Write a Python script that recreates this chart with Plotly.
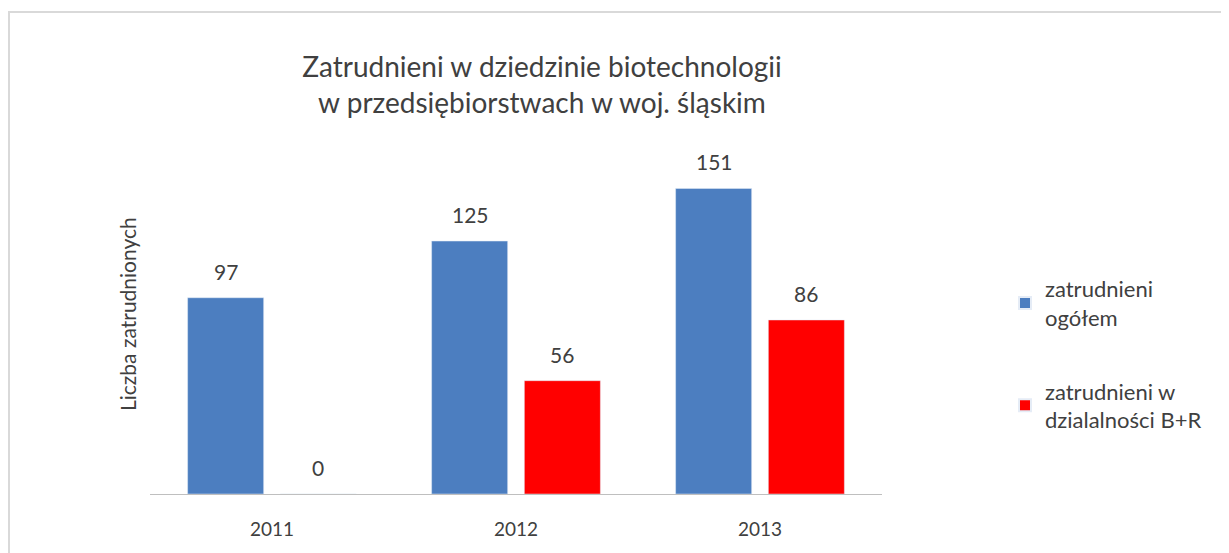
import plotly.graph_objects as go

years = ["2011", "2012", "2013"]
ogolem = [97, 125, 151]
br = [0, 56, 86]
series_names = ["zatrudnieni<br>ogółem", "zatrudnieni w<br>dzialalności B+R"]
title_text = "Zatrudnieni w dziedzinie biotechnologii<br>w przedsiębiorstwach w woj. śląskim"
ytitle = "Liczba zatrudnionych"

font_family = "Lato, Open Sans, sans-serif"
OFF = 8  # default body margin of the html page

W, H = 1229 - OFF, 553 - OFF
# page coordinates of plot area
PL, PR, PT, PB = 150, 882, 150, 494
l, r, t, b = PL - OFF, W - (PR - OFF), PT - OFF, H - (PB - OFF)
pw, ph = W - l - r, H - t - b

def px_x(x):  # page x -> paper
    return (x - PL) / pw

def px_y(y):  # page y -> paper
    return (PB - y) / ph

fig = go.Figure()
fig.add_trace(go.Bar(x=years, y=ogolem, name=series_names[0], marker_color="#4c7ec0",
                     legendgroup="g1"))
fig.add_trace(go.Bar(x=years, y=br, name=series_names[1], marker_color="#ff0000",
                     legendgroup="g2"))

annotations = []
for vals, shift in ((ogolem, -46), (br, 46)):
    for i, v in enumerate(vals):
        annotations.append(dict(x=i, y=v, xref="x", yref="y", text=str(v), showarrow=False,
                                xshift=shift, yanchor="bottom", yshift=12,
                                font=dict(size=21, color="#404040", family=font_family)))
annotations.append(dict(x=px_x(127), y=px_y(314), xref="paper", yref="paper", text=ytitle,
                        textangle=-90, showarrow=False, xanchor="center", yanchor="middle",
                        font=dict(size=21, color="#404040", family=font_family)))

fig.update_layout(
    width=W, height=H,
    margin=dict(l=l, r=r, t=t, b=b),
    paper_bgcolor="white", plot_bgcolor="white",
    barmode="group", bargap=0.24, bargroupgap=0.18,
    font=dict(family=font_family, color="#404040"),
    title=dict(text=title_text, x=(542 - OFF) / W, xanchor="center",
               y=1 - (77 - OFF) / H, yanchor="middle",
               font=dict(size=28, color="#404040", family=font_family)),
    xaxis=dict(type="category", showline=True, linecolor="#bfbfbf", linewidth=1,
               ticks="outside", ticklen=18, tickcolor="rgba(0,0,0,0)",
               tickfont=dict(size=19, color="#404040"), showgrid=False),
    yaxis=dict(range=[0, 170], showticklabels=False, showgrid=False, zeroline=False,
               showline=False),
    legend=dict(x=px_x(1005), y=px_y(268), xanchor="left", yanchor="top",
                font=dict(size=22, color="#404040"), itemsizing="constant",
                tracegroupgap=42, bgcolor="rgba(0,0,0,0)"),
    annotations=annotations,
    shapes=[dict(type="rect", xref="paper", yref="paper",
                 x0=px_x(9), x1=px_x(1240), y0=px_y(560), y1=px_y(12),
                 line=dict(color="#d9d9d9", width=2), fillcolor="rgba(0,0,0,0)", layer="below")],
)

fig.write_html("out.html")
